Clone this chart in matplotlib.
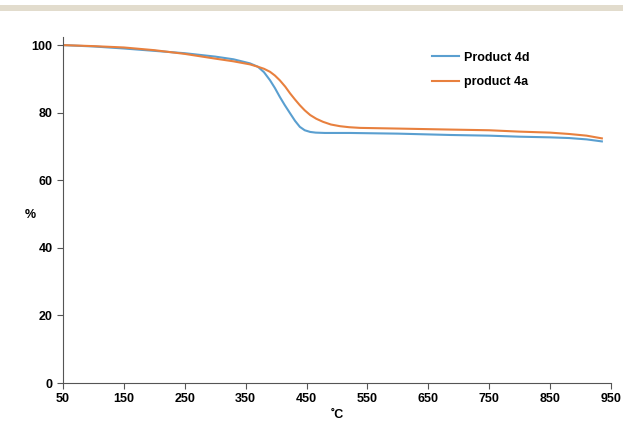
import matplotlib
matplotlib.use("Agg")
import matplotlib.pyplot as plt
from matplotlib.patches import Rectangle

plt.rcParams['font.family'] = ['Liberation Sans', 'DejaVu Sans']

# temperature (C) / residual mass (%)
temp_4d = [50, 100, 150, 200, 250, 275, 300, 330, 357, 370, 380, 390, 398, 406, 414, 423,
           431, 439, 447, 456, 465, 480, 521, 600, 687, 750, 799, 850, 881, 910, 935]
mass_4d = [100, 99.6, 99.0, 98.3, 97.6, 97.1, 96.6, 95.8, 94.6, 93.6, 92.0, 89.6, 87.3, 84.7,
           82.3, 79.8, 77.6, 75.8, 74.8, 74.3, 74.1, 74.0, 74.0, 73.8, 73.4, 73.2, 72.9,
           72.7, 72.5, 72.1, 71.5]

temp_4a = [50, 100, 150, 200, 250, 275, 300, 330, 357, 370, 380, 390, 398, 406, 415, 423,
           431, 439, 447, 456, 466, 477, 490, 505, 520, 538, 600, 687, 750, 799, 850, 881,
           910, 935]
mass_4a = [100, 99.7, 99.3, 98.5, 97.4, 96.7, 96.0, 95.2, 94.3, 93.6, 93.0, 92.1, 91.0, 89.6,
           87.7, 85.7, 83.9, 82.2, 80.7, 79.3, 78.2, 77.3, 76.5, 76.0, 75.7, 75.5, 75.3,
           75.0, 74.8, 74.4, 74.1, 73.7, 73.2, 72.4]

xticks = [50, 150, 250, 350, 450, 550, 650, 750, 850, 950]
yticks = [0, 20, 40, 60, 80, 100]

fig = plt.figure(figsize=(6.23, 4.23), dpi=100)
fig.patches.append(Rectangle((0, 1 - 11 / 423), 1, 6 / 423, transform=fig.transFigure,
                             facecolor='#e2dccd', edgecolor='none'))

ax = fig.add_axes([63 / 623, 40 / 423, 548 / 623, 346 / 423])
ax.plot(temp_4d, mass_4d, color='#5a9fd0', lw=1.5, label='Product 4d')
ax.plot(temp_4a, mass_4a, color='#e8803e', lw=1.5, label='product 4a')

ax.set_xlim(50, 950)
ax.set_ylim(0, 102.4)
ax.set_xticks(xticks)
ax.set_yticks(yticks)
ax.tick_params(labelsize=9, length=4, color='#555555', direction='out')
for lab in ax.get_xticklabels() + ax.get_yticklabels():
    lab.set_fontweight('bold')

for s in ['top', 'right']:
    ax.spines[s].set_visible(False)
for s in ['left', 'bottom']:
    ax.spines[s].set_color('#555555')

ax.set_ylabel('%', fontsize=9, fontweight='bold', rotation=0, va='center', ha='center')
ax.yaxis.set_label_coords(-0.06, 0.486)
ax.set_xlabel('˚C', fontsize=9, fontweight='bold')
ax.xaxis.set_label_coords(0.5, -0.075)

leg = ax.legend(loc='upper left', bbox_to_anchor=(0.652, 0.99), frameon=False,
                prop={'size': 9, 'weight': 'bold'}, handlelength=2.2, handletextpad=0.4,
                labelspacing=1.0)

fig.savefig('out.png', dpi=100)
